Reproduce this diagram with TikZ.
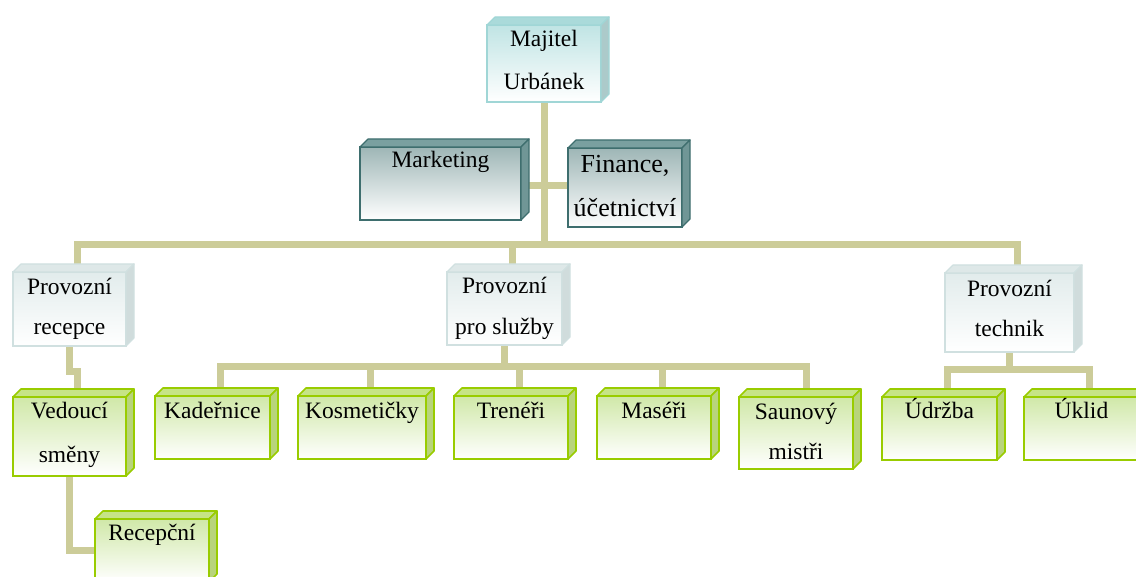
\documentclass[tikz,border=0pt]{standalone}
\usepackage{fontspec}
\setmainfont{Liberation Serif}
\usetikzlibrary{calc,backgrounds}

\definecolor{linktan}{RGB}{204,204,153}
\definecolor{grnedge}{RGB}{153,204,0}
\definecolor{grnfront}{RGB}{208,232,168}
\definecolor{grnside}{RGB}{184,212,124}
\definecolor{grntop}{RGB}{198,228,134}
\definecolor{cyanedge}{RGB}{160,214,214}
\definecolor{cyanfront}{RGB}{192,228,228}
\definecolor{cyanside}{RGB}{172,202,202}
\definecolor{cyantop}{RGB}{170,218,218}
\definecolor{tealedge}{RGB}{62,110,110}
\definecolor{tealfront}{RGB}{158,182,182}
\definecolor{tealside}{RGB}{112,150,150}
\definecolor{tealtop}{RGB}{122,160,160}
\definecolor{greyedge}{RGB}{208,224,224}
\definecolor{greyfront}{RGB}{226,236,236}
\definecolor{greyside}{RGB}{208,220,220}
\definecolor{greytop}{RGB}{222,232,232}

\tikzset{
  front/.style={rectangle, inner sep=0pt, outer sep=0pt},
  greenbox/.style={front, draw=grnedge, line width=2pt, top color=grnfront, bottom color=white},
  greenbox top/.style={draw=grnedge, fill=grntop, line width=1.6pt, line join=round},
  greenbox side/.style={draw=grnedge, fill=grnside, line width=1.6pt, line join=round},
  cyanbox/.style={front, draw=cyanedge, line width=1.6pt, top color=cyanfront, bottom color=white},
  cyanbox top/.style={draw=cyanedge, fill=cyantop, line width=1.2pt, line join=round},
  cyanbox side/.style={draw=cyanedge, fill=cyanside, line width=1.2pt, line join=round},
  tealbox/.style={front, draw=tealedge, line width=1.6pt, top color=tealfront, bottom color=white},
  tealbox top/.style={draw=tealedge, fill=tealtop, line width=1.2pt, line join=round},
  tealbox side/.style={draw=tealedge, fill=tealside, line width=1.2pt, line join=round},
  greybox/.style={front, draw=greyedge, line width=1.6pt, top color=greyfront, bottom color=white},
  greybox top/.style={draw=greyedge, fill=greytop, line width=1.2pt, line join=round},
  greybox side/.style={draw=greyedge, fill=greyside, line width=1.2pt, line join=round},
  boxlabel/.style={inner sep=0pt, anchor=base, font=\fontsize{23.5}{27}\selectfont},
  biglabel/.style={boxlabel, font=\fontsize{26}{30}\selectfont},
  conn/.style={draw=linktan, line width=7pt, line join=miter, line cap=butt},
}

% front face as a named node, then the top and right faces of the block
\newcommand\orgbox[6]{%
  \node[#2, anchor=north west, minimum width={(#5-#3)*1pt}, minimum height={(#6-#4)*1pt}] (#1) at (#3,#4) {};
  \filldraw[#2 top] (#1.north west) -- ++(8,-8) -- ($(#1.north east)+(8,-8)$) -- (#1.north east) -- cycle;
  \filldraw[#2 side] (#1.north east) -- ++(8,-8) -- ($(#1.south east)+(8,-8)$) -- (#1.south east) -- cycle;
  \coordinate (#1in) at ([xshift=8pt]#1.north);
}
% one line of text, placed by its baseline below the top of a block
\newcommand\boxtext[5][boxlabel]{%
  \node[#1] (#2) at ($(#3.north)+(0,#4)$) {#5};
}

\begin{document}
\begin{tikzpicture}[x=1pt,y=-1pt]
\useasboundingbox (0,0) rectangle (1136,577);
\clip (0,0) rectangle (1136,577);

% blocks
\orgbox{maj}{cyanbox}{487}{25}{601}{102}
\orgbox{mkt}{tealbox}{360}{147}{521}{220}
\orgbox{fin}{tealbox}{568}{148}{682}{227}
\orgbox{rec}{greybox}{13}{272}{126}{346}
\orgbox{sl}{greybox}{447}{272}{562}{345}
\orgbox{tech}{greybox}{945}{273}{1074}{352}
\orgbox{ved}{greenbox}{13}{397}{126}{476}
\orgbox{kad}{greenbox}{155}{396}{270}{459}
\orgbox{kos}{greenbox}{298}{396}{426}{459}
\orgbox{tre}{greenbox}{454}{396}{568}{459}
\orgbox{mas}{greenbox}{597}{396}{711}{459}
\orgbox{sau}{greenbox}{739}{397}{853}{469}
\orgbox{udr}{greenbox}{882}{397}{997}{460}
\orgbox{ukl}{greenbox}{1024}{397}{1139}{460}
\orgbox{rcp}{greenbox}{95}{519}{209}{582}

% texts
\boxtext{majA}{maj}{22}{Majitel}
\boxtext{majB}{maj}{65}{Urbánek}
\boxtext{mktA}{mkt}{21}{Marketing}
\boxtext[biglabel]{finA}{fin}{25}{Finance,}
\boxtext[biglabel]{finB}{fin}{69}{účetnictví}
\boxtext{recA}{rec}{23}{Provozní}
\boxtext{recB}{rec}{63}{recepce}
\boxtext{slA}{sl}{22}{Provozní}
\boxtext{slB}{sl}{63}{pro služby}
\boxtext{techA}{tech}{24}{Provozní}
\boxtext{techB}{tech}{64}{technik}
\boxtext{vedA}{ved}{22}{Vedoucí}
\boxtext{vedB}{ved}{65}{směny}
\boxtext{kadA}{kad}{22}{Kadeřnice}
\boxtext{kosA}{kos}{22}{Kosmetičky}
\boxtext{treA}{tre}{22}{Trenéři}
\boxtext{masA}{mas}{22}{Maséři}
\boxtext{sauA}{sau}{23}{Saunový}
\boxtext{sauB}{sau}{63}{mistři}
\boxtext{udrA}{udr}{21}{Údržba}
\boxtext{uklA}{ukl}{21}{Úklid}
\boxtext{rcpA}{rcp}{21}{Recepční}

\coordinate (sauin) at ([xshift=10pt]sau.north);

\begin{scope}[on background layer]
  \fill[white] (0,0) rectangle (1136,577);
  % trunk and staff branch
  \coordinate (bar) at ($(maj.south)+(0,143)$);
  \draw[conn] (maj.south) -- (bar);
  \coordinate (staff) at ($(mkt.east)!.5!(fin.west)$);
  \draw[conn] (mkt.east |- staff) -- (fin.west |- staff);
  % main branch to the three operating units
  \draw[conn] (recin) |- (bar) -| (techin);
  \draw[conn] (slin) -- (slin |- bar);
  % reception line
  \draw[conn] (rec.south) |- ($(rec.south)!.5!(vedin)$) -| (vedin);
  \draw[conn] (ved.south) |- (rcp.west);
  % services
  \coordinate (midbar) at ($(sl.south)+(0,22)$);
  \draw[conn] (sl.south) -- (midbar);
  \draw[conn] (kadin) |- (midbar) -| (sauin);
  \draw[conn] (kosin) -- (kosin |- midbar);
  \draw[conn] (trein) -- (trein |- midbar);
  \draw[conn] (masin) -- (masin |- midbar);
  % technical staff
  \coordinate (techbar) at ($(tech.south)+(0,18)$);
  \draw[conn] (tech.south) -- (techbar);
  \draw[conn] (udrin) |- (techbar) -| (uklin);
\end{scope}
\end{tikzpicture}
\end{document}
